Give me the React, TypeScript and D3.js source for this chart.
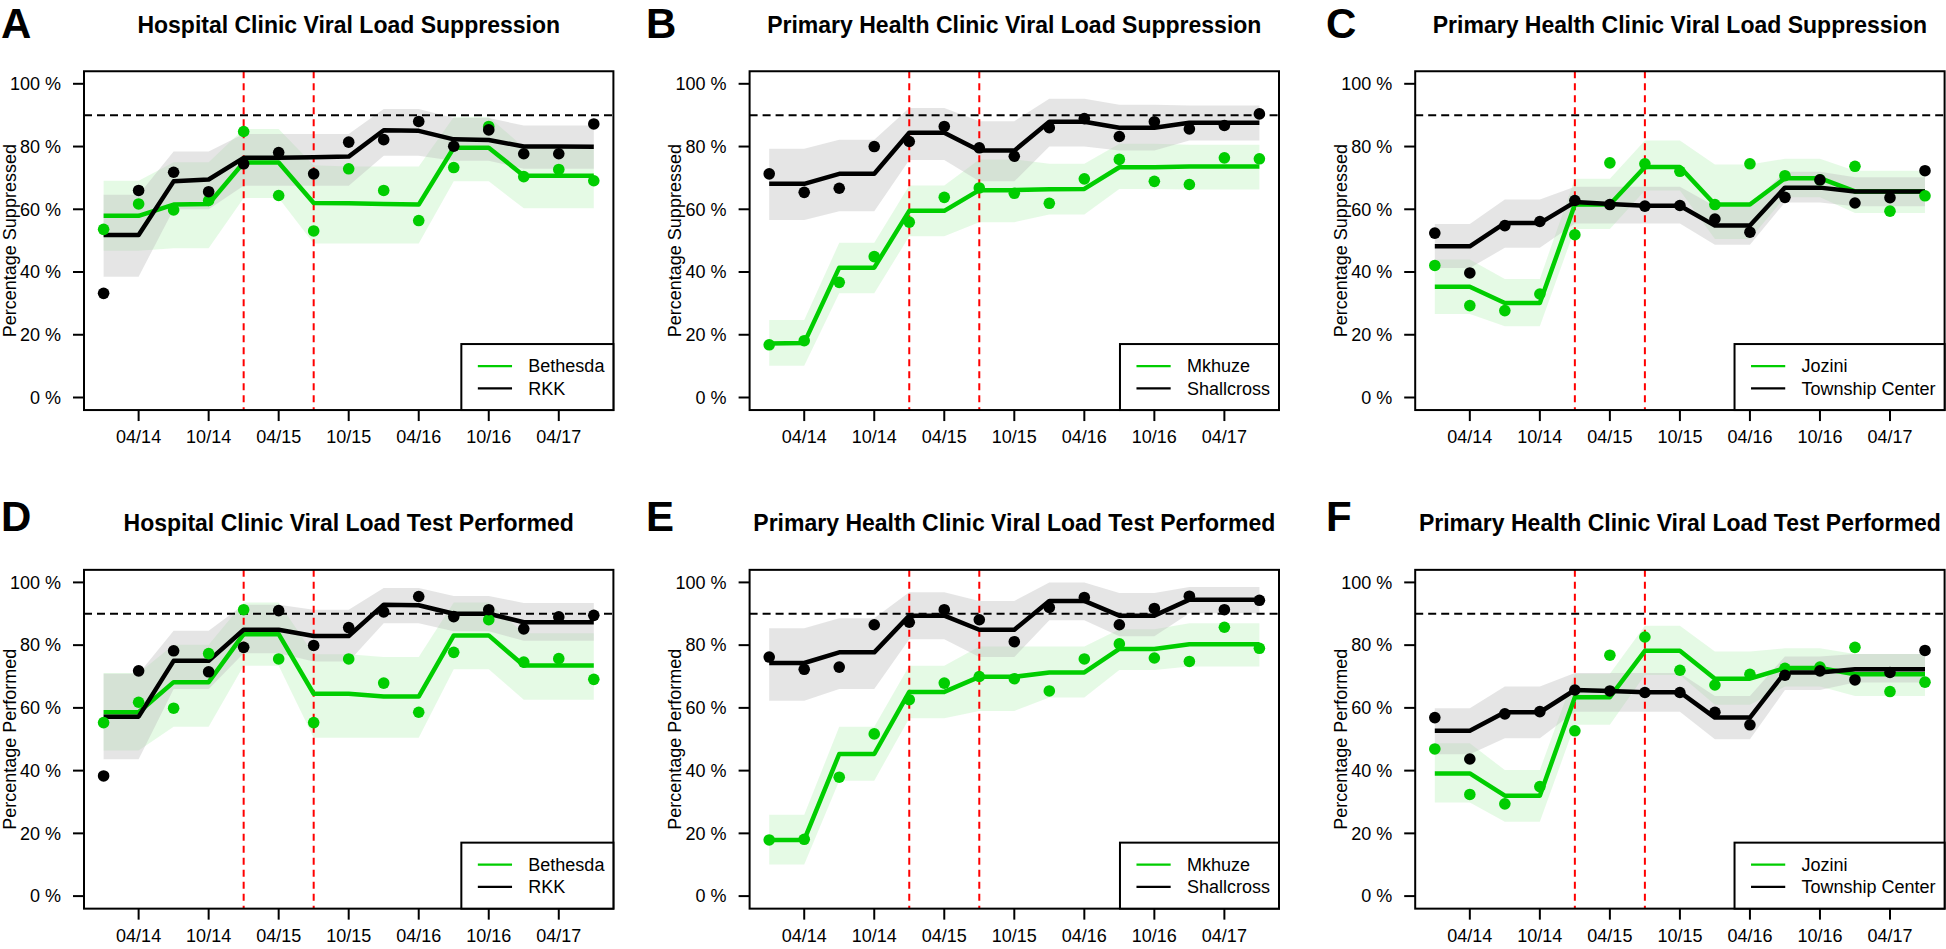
import React from "react";
import * as d3 from "d3";

// ---------------- DATA ----------------
const quarters = ["01/14", "04/14", "07/14", "10/14", "01/15", "04/15", "07/15", "10/15", "01/16", "04/16", "07/16", "10/16", "01/17", "04/17", "07/17"];
const tickQuarters = ["04/14", "10/14", "04/15", "10/15", "04/16", "10/16", "04/17"];
const interventionQuarters = ["01/15", "07/15"];
const yTicks = [0, 20, 40, 60, 80, 100];
const targetLevel = 90;

// Panel A – Hospital, suppression
const aBethesdaObs = [53.6, 61.7, 59.8, 62.8, 84.8, 64.4, 53.1, 72.9, 66.0, 56.4, 73.3, 86.4, 70.4, 72.7, 69.1];
const aBethesdaFit = [57.9, 57.9, 61.5, 61.7, 74.9, 74.9, 62.0, 61.9, 61.7, 61.5, 79.6, 79.6, 70.7, 70.7, 70.7];
const aBethesdaLo = [46.8, 46.8, 47.6, 47.6, 63.6, 63.6, 49.1, 49.1, 49.1, 49.1, 68.9, 68.9, 60.3, 60.3, 60.3];
const aBethesdaHi = [69.1, 69.1, 75.0, 75.0, 85.6, 85.6, 74.0, 73.6, 73.6, 73.6, 89.4, 89.4, 79.8, 79.8, 79.8];
const aRkkObs = [33.2, 66.0, 71.8, 65.6, 74.5, 78.1, 71.3, 81.4, 82.2, 88.0, 80.1, 85.3, 77.7, 77.7, 87.2];
const aRkkFit = [51.8, 51.8, 68.9, 69.5, 76.4, 76.4, 76.6, 76.8, 85.2, 85.0, 82.3, 82.1, 80.0, 80.0, 79.9];
const aRkkLo = [38.5, 38.5, 60.0, 60.0, 67.5, 67.5, 67.5, 67.5, 77.1, 77.1, 75.5, 75.5, 72.9, 72.9, 72.9];
const aRkkHi = [64.6, 64.6, 78.4, 78.4, 84.0, 84.0, 84.0, 84.0, 92.0, 92.0, 89.1, 89.1, 86.7, 86.7, 86.7];

// Panel B – PHC, suppression
const bMkhuzeObs = [16.8, 18.1, 36.7, 44.9, 55.9, 63.8, 66.8, 65.1, 61.9, 69.7, 75.9, 68.9, 67.9, 76.4, 76.1];
const bMkhuzeFit = [17.2, 17.4, 41.4, 41.4, 59.5, 59.5, 66.1, 66.1, 66.4, 66.5, 73.4, 73.4, 73.6, 73.6, 73.6];
const bMkhuzeLo = [10.1, 10.1, 33.2, 33.2, 51.4, 51.4, 55.9, 55.9, 58.3, 58.3, 66.5, 66.5, 66.3, 66.3, 66.3];
const bMkhuzeHi = [24.7, 24.7, 49.3, 49.3, 67.6, 67.6, 75.9, 75.9, 74.5, 74.5, 80.9, 80.9, 80.6, 80.6, 80.6];
const bShallObs = [71.3, 65.4, 66.7, 80.0, 81.6, 86.4, 79.6, 76.9, 86.0, 88.9, 83.2, 87.9, 85.6, 86.7, 90.4];
const bShallFit = [68.1, 68.1, 71.3, 71.3, 84.4, 84.4, 78.7, 78.7, 87.9, 87.9, 86.0, 86.0, 87.6, 87.6, 87.6];
const bShallLo = [56.6, 56.6, 59.4, 59.4, 75.7, 75.7, 68.9, 68.9, 80.0, 80.0, 78.7, 78.7, 81.9, 81.9, 81.9];
const bShallHi = [79.3, 79.3, 82.2, 82.2, 92.3, 92.3, 88.1, 88.1, 95.2, 95.2, 93.3, 93.3, 93.1, 93.1, 93.1];

// Panel C – PHC, suppression
const cJoziniObs = [42.1, 29.3, 27.7, 33.0, 51.9, 74.8, 74.5, 72.1, 61.5, 74.5, 70.7, 69.4, 73.7, 59.4, 64.3];
const cJoziniFit = [35.3, 35.3, 30.1, 30.1, 61.5, 61.5, 73.5, 73.5, 61.5, 61.5, 69.9, 69.9, 65.7, 65.7, 65.7];
const cJoziniLo = [26.6, 26.6, 22.7, 22.7, 53.7, 53.7, 66.0, 66.0, 50.5, 50.5, 63.8, 63.8, 58.8, 58.8, 58.8];
const cJoziniHi = [44.0, 44.0, 37.8, 37.8, 69.7, 69.7, 81.9, 81.9, 74.3, 74.3, 76.1, 76.1, 72.3, 72.3, 72.3];
const cTownObs = [52.4, 39.7, 54.8, 56.1, 62.8, 61.5, 61.0, 61.2, 56.9, 52.7, 63.8, 69.4, 62.0, 63.7, 72.3];
const cTownFit = [48.2, 48.2, 55.6, 55.6, 62.3, 61.7, 61.1, 61.1, 54.8, 54.8, 66.9, 66.9, 65.7, 65.7, 65.7];
const cTownLo = [41.3, 41.3, 47.7, 47.7, 55.5, 55.5, 55.5, 55.5, 48.7, 48.7, 62.2, 62.2, 61.0, 61.0, 61.0];
const cTownHi = [55.3, 55.3, 63.1, 63.1, 67.2, 67.2, 67.2, 67.2, 61.0, 61.0, 72.0, 72.0, 70.2, 70.2, 70.2];

// Panel D – Hospital, test performed
const dBethesdaObs = [55.3, 61.8, 59.9, 77.3, 91.3, 75.6, 55.3, 75.6, 67.9, 58.6, 77.7, 88.1, 74.6, 75.7, 69.1];
const dBethesdaFit = [58.6, 58.6, 68.2, 68.2, 83.5, 83.5, 64.5, 64.5, 63.6, 63.6, 83.1, 83.1, 73.5, 73.5, 73.5];
const dBethesdaLo = [46.4, 46.4, 54.0, 54.0, 73.4, 73.4, 50.5, 50.5, 50.5, 50.5, 72.3, 72.3, 62.6, 62.6, 62.6];
const dBethesdaHi = [71.1, 71.1, 80.1, 80.1, 93.6, 93.6, 77.1, 77.1, 76.2, 76.2, 93.6, 93.6, 83.8, 83.8, 83.8];
const dRkkObs = [38.3, 71.8, 78.2, 71.5, 79.3, 91.0, 79.9, 85.6, 90.6, 95.5, 89.1, 91.3, 85.2, 89.0, 89.5];
const dRkkFit = [57.2, 57.2, 75.0, 75.0, 84.9, 84.9, 82.9, 82.9, 92.9, 92.7, 90.0, 90.0, 87.3, 87.3, 87.3];
const dRkkLo = [43.6, 43.6, 66.0, 66.0, 77.4, 77.4, 74.8, 74.8, 87.0, 87.0, 84.4, 84.4, 81.4, 81.4, 81.4];
const dRkkHi = [70.9, 70.9, 84.6, 84.6, 92.9, 92.9, 91.3, 91.3, 98.2, 98.2, 95.7, 95.7, 93.4, 93.4, 93.4];

// Panel E – PHC, test performed
const eMkhuzeObs = [17.9, 18.1, 37.9, 51.7, 62.6, 67.9, 70.0, 69.3, 65.4, 75.6, 80.4, 75.9, 74.8, 85.7, 79.0];
const eMkhuzeFit = [17.9, 17.9, 45.3, 45.3, 65.1, 65.1, 69.9, 69.9, 71.3, 71.3, 78.8, 78.8, 80.3, 80.3, 80.3];
const eMkhuzeLo = [10.1, 10.1, 36.8, 36.8, 56.7, 56.7, 59.0, 59.0, 63.3, 63.3, 72.1, 72.1, 73.2, 73.2, 73.2];
const eMkhuzeHi = [25.9, 25.9, 54.0, 54.0, 73.4, 73.4, 79.6, 79.6, 79.6, 79.6, 85.1, 85.1, 87.0, 87.0, 87.0];
const eShallObs = [76.2, 72.3, 73.0, 86.5, 87.3, 91.3, 88.1, 81.1, 92.0, 95.2, 86.5, 91.7, 95.6, 91.3, 94.3];
const eShallFit = [74.3, 74.3, 77.7, 77.7, 89.4, 89.4, 84.9, 84.9, 94.1, 94.1, 89.4, 89.4, 94.5, 94.5, 94.5];
const eShallLo = [62.3, 62.3, 66.0, 66.0, 81.9, 81.9, 76.2, 76.2, 87.9, 87.9, 82.8, 82.8, 90.2, 90.2, 90.2];
const eShallHi = [85.4, 85.4, 88.6, 88.6, 96.9, 96.9, 94.1, 94.1, 100, 100, 96.6, 96.6, 98.5, 98.5, 98.5];

// Panel F – PHC, test performed
const fJoziniObs = [46.9, 32.4, 29.4, 34.9, 52.7, 76.8, 82.6, 72.0, 67.3, 70.7, 72.6, 73.0, 79.3, 65.2, 68.2];
const fJoziniFit = [39.1, 39.1, 32.0, 32.0, 63.4, 63.4, 78.2, 78.2, 69.3, 69.3, 72.7, 72.7, 70.7, 70.7, 70.7];
const fJoziniLo = [29.8, 29.8, 23.7, 23.7, 54.6, 54.6, 70.5, 70.5, 61.0, 61.0, 66.8, 66.8, 63.8, 63.8, 63.8];
const fJoziniHi = [48.7, 48.7, 40.2, 40.2, 70.9, 70.9, 86.2, 86.2, 78.0, 78.0, 79.0, 79.0, 77.2, 77.2, 77.2];
const fTownObs = [56.9, 43.7, 58.1, 58.8, 65.7, 65.4, 64.9, 64.9, 58.6, 54.6, 70.4, 71.8, 68.9, 71.3, 78.3];
const fTownFit = [52.7, 52.7, 58.6, 58.6, 65.7, 65.4, 65.0, 65.0, 56.9, 56.9, 71.3, 71.3, 72.3, 72.3, 72.3];
const fTownLo = [45.2, 45.2, 50.3, 50.3, 58.8, 58.8, 58.8, 58.8, 50.0, 50.0, 65.7, 65.7, 68.1, 68.1, 68.1];
const fTownHi = [59.9, 59.9, 66.8, 66.8, 71.1, 71.1, 71.1, 71.1, 63.8, 63.8, 76.4, 76.4, 77.2, 77.2, 77.2];

type Series = { name: string; obs: number[]; fit: number[]; lo: number[]; hi: number[] };
type PanelSpec = { letter: string; title: string; ylab: string; green: Series; black: Series };

const panels: PanelSpec[] = [
  { letter: "A", title: "Hospital Clinic Viral Load Suppression", ylab: "Percentage Suppressed",
    green: { name: "Bethesda", obs: aBethesdaObs, fit: aBethesdaFit, lo: aBethesdaLo, hi: aBethesdaHi },
    black: { name: "RKK", obs: aRkkObs, fit: aRkkFit, lo: aRkkLo, hi: aRkkHi } },
  { letter: "B", title: "Primary Health Clinic Viral Load Suppression", ylab: "Percentage Suppressed",
    green: { name: "Mkhuze", obs: bMkhuzeObs, fit: bMkhuzeFit, lo: bMkhuzeLo, hi: bMkhuzeHi },
    black: { name: "Shallcross", obs: bShallObs, fit: bShallFit, lo: bShallLo, hi: bShallHi } },
  { letter: "C", title: "Primary Health Clinic Viral Load Suppression", ylab: "Percentage Suppressed",
    green: { name: "Jozini", obs: cJoziniObs, fit: cJoziniFit, lo: cJoziniLo, hi: cJoziniHi },
    black: { name: "Township Center", obs: cTownObs, fit: cTownFit, lo: cTownLo, hi: cTownHi } },
  { letter: "D", title: "Hospital Clinic Viral Load Test Performed", ylab: "Percentage Performed",
    green: { name: "Bethesda", obs: dBethesdaObs, fit: dBethesdaFit, lo: dBethesdaLo, hi: dBethesdaHi },
    black: { name: "RKK", obs: dRkkObs, fit: dRkkFit, lo: dRkkLo, hi: dRkkHi } },
  { letter: "E", title: "Primary Health Clinic Viral Load Test Performed", ylab: "Percentage Performed",
    green: { name: "Mkhuze", obs: eMkhuzeObs, fit: eMkhuzeFit, lo: eMkhuzeLo, hi: eMkhuzeHi },
    black: { name: "Shallcross", obs: eShallObs, fit: eShallFit, lo: eShallLo, hi: eShallHi } },
  { letter: "F", title: "Primary Health Clinic Viral Load Test Performed", ylab: "Percentage Performed",
    green: { name: "Jozini", obs: fJoziniObs, fit: fJoziniFit, lo: fJoziniLo, hi: fJoziniHi },
    black: { name: "Township Center", obs: fTownObs, fit: fTownFit, lo: fTownLo, hi: fTownHi } },
];

// ---------------- LAYOUT / STYLE ----------------
const W = 1946;
const H = 949;
const FONT = "'Liberation Sans', Arial, Helvetica, sans-serif";
const GREEN = "#00CD00";
const COL_LEFT = [84, 749.6, 1415.2];
const PLOT_W = 529.4;
const LETTER_X = [1, 646, 1326];
const ROWS = [
  { y100: 83.8, y0: 397.5, titleY: 33, letterY: 38 },
  { y100: 582.4, y0: 896.1, titleY: 531, letterY: 531 },
];

let measureCtx: CanvasRenderingContext2D | null = null;
function textWidth(s: string, size: number) {
  if (!measureCtx) measureCtx = document.createElement("canvas").getContext("2d");
  if (!measureCtx) return s.length * size * 0.55;
  measureCtx.font = `${size}px ${FONT}`;
  return measureCtx.measureText(s).width;
}

function Panel({ spec, col, row }: { spec: PanelSpec; col: number; row: number }) {
  const left = COL_LEFT[col];
  const right = left + PLOT_W;
  const pad = (PLOT_W * 0.04) / 1.08;
  const r = ROWS[row];
  const x = d3.scaleLinear().domain([0, quarters.length - 1]).range([left + pad, right - pad]);
  const y = d3.scaleLinear().domain([0, 100]).range([r.y0, r.y100]);
  const top = y(104);
  const bottom = y(-4);
  const cx = (left + right) / 2;

  const band = (s: Series) =>
    d3.area<number>().x((_, i) => x(i)).y0((_, i) => y(s.lo[i])).y1((_, i) => y(s.hi[i]))(s.fit) || "";
  const line = (vals: number[]) => d3.line<number>().x((_, i) => x(i)).y((d) => y(d))(vals) || "";

  const legendFont = 18;
  const lw = 67 + Math.max(textWidth(spec.green.name, legendFont), textWidth(spec.black.name, legendFont)) + 9;
  const lh = 66;
  const lx = right - lw;
  const ly = bottom - lh;

  return (
    <g>
      {/* bands */}
      <path d={band(spec.green)} fill={GREEN} fillOpacity={0.1} stroke="none" />
      <path d={band(spec.black)} fill="#BEBEBE" fillOpacity={0.4} stroke="none" />
      {/* target line */}
      <line x1={left} x2={right} y1={y(targetLevel)} y2={y(targetLevel)} stroke="#000" strokeWidth={2} strokeDasharray="8,5" />
      {/* intervention lines */}
      {interventionQuarters.map((q) => {
        const xi = x(quarters.indexOf(q));
        return <line key={q} x1={xi} x2={xi} y1={top} y2={bottom} stroke="#FF0000" strokeWidth={2} strokeDasharray="7,5" />;
      })}
      {/* fitted lines */}
      <path d={line(spec.green.fit)} fill="none" stroke={GREEN} strokeWidth={4.5} strokeLinejoin="round" />
      <path d={line(spec.black.fit)} fill="none" stroke="#000" strokeWidth={4.5} strokeLinejoin="round" />
      {/* observed points */}
      {spec.green.obs.map((v, i) => <circle key={"g" + i} cx={x(i)} cy={y(v)} r={5.8} fill={GREEN} />)}
      {spec.black.obs.map((v, i) => <circle key={"b" + i} cx={x(i)} cy={y(v)} r={5.8} fill="#000" />)}
      {/* box */}
      <rect x={left} y={top} width={PLOT_W} height={bottom - top} fill="none" stroke="#000" strokeWidth={2} />
      {/* y axis */}
      {yTicks.map((t) => (
        <g key={t}>
          <line x1={left - 11} x2={left} y1={y(t)} y2={y(t)} stroke="#000" strokeWidth={2} />
          <text x={left - 23} y={y(t)} dy="0.35em" textAnchor="end" fontSize={18} fontFamily={FONT}>{`${t} %`}</text>
        </g>
      ))}
      <text transform={`translate(${left - 68.5},${(top + bottom) / 2}) rotate(-90)`} textAnchor="middle" fontSize={18} fontFamily={FONT}>
        {spec.ylab}
      </text>
      {/* x axis */}
      {tickQuarters.map((q) => {
        const xi = x(quarters.indexOf(q));
        return (
          <g key={q}>
            <line x1={xi} x2={xi} y1={bottom} y2={bottom + 11} stroke="#000" strokeWidth={2} />
            <text x={xi} y={bottom + 33} textAnchor="middle" fontSize={18} fontFamily={FONT}>{q}</text>
          </g>
        );
      })}
      {/* title & letter */}
      <text x={cx} y={r.titleY} textAnchor="middle" fontSize={23} fontWeight="bold" fontFamily={FONT}>{spec.title}</text>
      <text x={LETTER_X[col]} y={r.letterY} fontSize={42} fontWeight="bold" fontFamily={FONT}>{spec.letter}</text>
      {/* legend */}
      <rect x={lx} y={ly} width={lw} height={lh} fill="#fff" stroke="#000" strokeWidth={2} />
      {[spec.green, spec.black].map((s, k) => {
        const yy = ly + 22 + k * 22.3;
        return (
          <g key={s.name}>
            <line x1={lx + 16.5} x2={lx + 50.7} y1={yy} y2={yy} stroke={k === 0 ? GREEN : "#000"} strokeWidth={2.2} />
            <text x={lx + 67} y={yy} dy="0.35em" fontSize={legendFont} fontFamily={FONT}>{s.name}</text>
          </g>
        );
      })}
    </g>
  );
}

export default function App() {
  return (
    <svg width={W} height={H} viewBox={`0 0 ${W} ${H}`} style={{ position: "absolute", left: 0, top: 0, display: "block", background: "#fff" }}>
      <rect x={0} y={0} width={W} height={H} fill="#fff" />
      {panels.map((p, i) => (
        <Panel key={p.letter} spec={p} col={i % 3} row={Math.floor(i / 3)} />
      ))}
    </svg>
  );
}
